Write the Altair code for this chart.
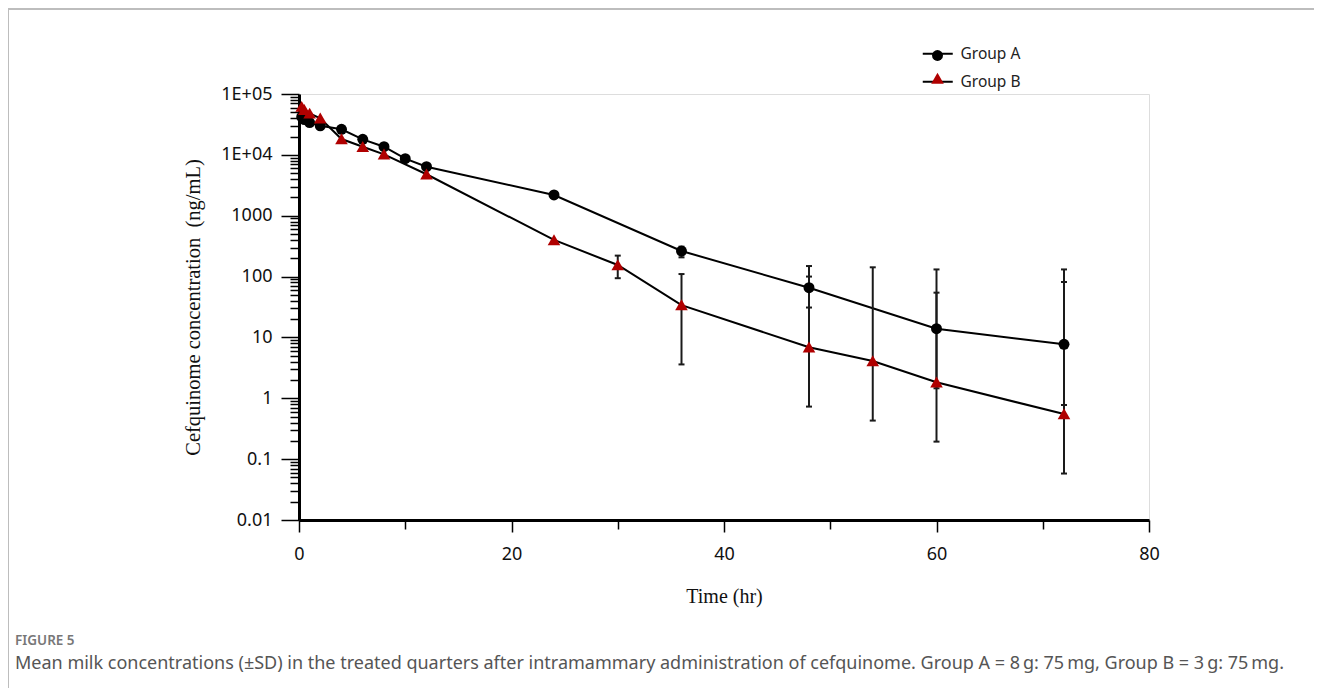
import altair as alt
import pandas as pd

# ---------------- data ----------------
groups = ["Group A", "Group B"]
series_keys = ["A", "B"]

a_time = [0.25, 0.5, 1, 2, 4, 6, 8, 10, 12, 24, 36, 48, 60, 72]
a_mean = [42000, 38000, 34000, 30000, 26300, 18000, 13600, 8650, 6390, 2190, 263, 65.6, 13.9, 7.7]

b_time = [0.25, 0.5, 1, 2, 4, 6, 8, 12, 24, 30, 36, 48, 54, 60, 72]
b_mean = [62000, 55000, 48000, 40000, 18200, 13600, 10200, 4800, 400, 155, 34, 6.9, 4.1, 1.83, 0.55]

a_err_time = [36, 48, 60, 72]
a_err_lo = [207, 31, 1.46, 0.776]
a_err_hi = [310, 149, 131, 81.5]

b_err_time = [30, 36, 48, 54, 60, 72]
b_err_lo = [94, 3.6, 0.73, 0.43, 0.194, 0.058]
b_err_hi = [221, 110, 100, 142, 54.4, 131]

x_ticks = [0, 10, 20, 30, 40, 50, 60, 70, 80]
y_major = [0.01, 0.1, 1, 10, 100, 1000, 10000, 100000]

caption_head = "FIGURE 5"
caption_text = ("Mean milk concentrations (\u00b1SD) in the treated quarters after intramammary "
                "administration of cefquinome. Group A = 8\u2009g: 75\u2009mg, Group B = 3\u2009g: 75\u2009mg.")

# ---------------- tables ----------------
mean_df = pd.concat([
    pd.DataFrame({"Time": a_time, "Conc": a_mean, "Group": groups[0], "Series": series_keys[0]}),
    pd.DataFrame({"Time": b_time, "Conc": b_mean, "Group": groups[1], "Series": series_keys[1]}),
])
err_df = pd.concat([
    pd.DataFrame({"Time": a_err_time, "Lo": a_err_lo, "Hi": a_err_hi, "Group": groups[0]}),
    pd.DataFrame({"Time": b_err_time, "Lo": b_err_lo, "Hi": b_err_hi, "Group": groups[1]}),
])

y_vals = []
for d in y_major[:-1]:
    y_vals.append(d)
    for k in range(2, 10):
        y_vals.append(round(d * k, 6))
y_vals.append(y_major[-1])

major_test = "abs(log(datum.value)/LN10 - round(log(datum.value)/LN10)) < 0.001"
y_label_expr = (f"({major_test}) ? (datum.value > 5000 ? '1E+0' + round(log(datum.value)/LN10) "
                f": format(datum.value, '~g')) : ''")

TICK_FONT = "Noto Sans"
SERIF = "Liberation Serif"
TRIANGLE = "M0,-1.05L1.15,0.95L-1.15,0.95Z"

x_scale = alt.Scale(domain=[0, 80], nice=False)
y_scale = alt.Scale(type="log", domain=[0.01, 100000], nice=False)

x_axis = alt.Axis(
    values=x_ticks,
    labelExpr="datum.value % 20 == 0 ? datum.label : ''",
    tickSize={"condition": {"test": "datum.value % 20 == 0", "value": 12}, "value": 9},
    tickWidth=1.5, tickColor="black",
    domainWidth=3, domainColor="black",
    labelFont=TICK_FONT, labelFontSize=18, labelColor="#111", labelPadding=13,
    labelFlush=False, labelOverlap=False,
    title="Time (hr)", titleFont=SERIF, titleFontSize=20, titleFontWeight="normal",
    titleColor="#111", titleX=425, titleY=76, titleBaseline="middle",
    grid=False,
)
y_axis = alt.Axis(
    values=y_vals,
    labelExpr=y_label_expr,
    tickSize={"condition": {"test": major_test, "value": 18}, "value": 9},
    tickWidth=1.5, tickColor="black",
    domainWidth=3, domainColor="black",
    labelFont=TICK_FONT, labelFontSize=18, labelColor="#111", labelPadding=9,
    labelFlush=False, labelOverlap=False,
    title="Cefquinome concentration\u00a0\u00a0(ng/mL)", titleFont=SERIF, titleFontSize=20.5,
    titleFontWeight="normal", titleColor="#111",
    titleX=-106, titleY=213, titleAngle=-90, titleAlign="center", titleBaseline="middle",
    grid=False,
)

base = alt.Chart(mean_df)

lines = base.mark_line(strokeWidth=2).encode(
    x=alt.X("Time:Q", scale=x_scale, axis=x_axis),
    y=alt.Y("Conc:Q", scale=y_scale, axis=y_axis),
    detail="Group:N",
    stroke=alt.Stroke(
        "Series:N",
        scale=alt.Scale(domain=series_keys, range=["black", "black"]),
        legend=alt.Legend(
            orient="none", legendX=631, legendY=-48, title=None,
            labelExpr="'Group ' + datum.label",
            symbolType="M-3,0L3,0", symbolSize=100, symbolStrokeWidth=2,
            symbolStrokeColor="black", labelOffset=15,
            labelFont=TICK_FONT, labelFontSize=15.5, labelColor="#222",
            rowPadding=11, padding=0,
        ),
    ),
)

err_bars = alt.Chart(err_df).mark_rule(strokeWidth=2, color="#1a1a1a").encode(
    x="Time:Q", y="Lo:Q", y2="Hi:Q",
)
cap_lo = alt.Chart(err_df).mark_rule(strokeWidth=2, color="#1a1a1a", xOffset=-3, x2Offset=3).encode(
    x="Time:Q", x2="Time:Q", y="Lo:Q",
)
cap_hi = alt.Chart(err_df).mark_rule(strokeWidth=2, color="#1a1a1a", xOffset=-3, x2Offset=3).encode(
    x="Time:Q", x2="Time:Q", y="Hi:Q",
)

pt_legend = alt.Legend(
    orient="none", legendX=631, legendY=-46, title=None,
    labelExpr="''", labelOffset=15, labelFont=TICK_FONT, labelFontSize=15,
    symbolSize=120, symbolStrokeWidth=0, rowPadding=7, padding=0,
)
points = base.mark_point(filled=True, opacity=1, strokeWidth=0, size=120).encode(
    x="Time:Q",
    y="Conc:Q",
    shape=alt.Shape("Group:N", scale=alt.Scale(domain=groups, range=["circle", TRIANGLE]),
                    legend=pt_legend),
    fill=alt.Fill("Group:N", scale=alt.Scale(domain=groups, range=["black", "#b00000"]),
                  legend=pt_legend),
)

frame_top = alt.Chart().mark_rule(color="#bdbdbd", strokeWidth=2).encode(
    x=alt.value(-291), x2=alt.value(1100), y=alt.value(-85))
frame_left = alt.Chart().mark_rule(color="#bdbdbd", strokeWidth=2).encode(
    x=alt.value(-291), y=alt.value(-86), y2=alt.value(700))

cap_head = alt.Chart().mark_text(
    text=caption_head, align="left", baseline="middle", font="Noto Sans",
    fontSize=13.5, fontWeight=600, color="#777"
).encode(x=alt.value(-284), y=alt.value(547))
cap_body = alt.Chart().mark_text(
    text=caption_text, align="left", baseline="middle", font="Noto Sans",
    fontSize=18, color="#555"
).encode(x=alt.value(-284), y=alt.value(570))

chart = alt.layer(
    frame_top, frame_left, lines, err_bars, cap_lo, cap_hi, points, cap_head, cap_body
).properties(
    width=850, height=426,
    padding={"left": 291, "top": 86, "right": 165, "bottom": 168},
    autosize=alt.AutoSizeParams(type="none"),
).configure_view(stroke=None).configure(background="white")

chart.save("out.html", embed_options={"renderer": "svg", "actions": False})
